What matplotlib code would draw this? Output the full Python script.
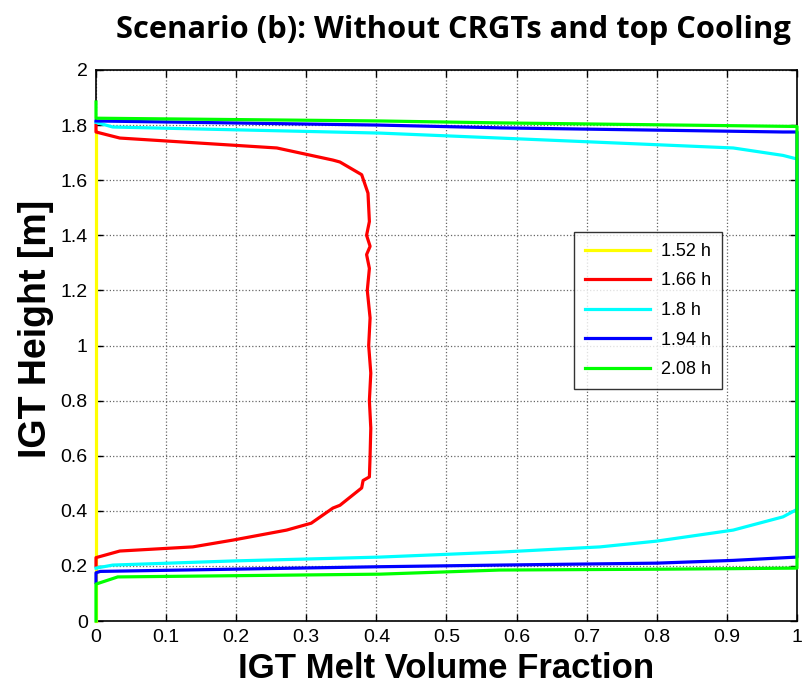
import numpy as np
import matplotlib
matplotlib.use("Agg")
import matplotlib.pyplot as plt
from matplotlib.ticker import FuncFormatter

# --- data (melt fraction, height) ---
labels = ["1.52 h", "1.66 h", "1.8 h", "1.94 h", "2.08 h"]
colors = ["#ffff00", "#ff0000", "#00ffff", "#0000ff", "#00ff00"]

x_152 = [0, 0]
y_152 = [0, 1.78]

x_166 = [0, 0, 0.034, 0.258, 0.338, 0.348, 0.379, 0.388, 0.390, 0.386, 0.391,
         0.386, 0.390, 0.387, 0.391, 0.389, 0.392, 0.390, 0.392, 0.391, 0.390,
         0.381, 0.379, 0.348, 0.338, 0.307, 0.272, 0.196, 0.138, 0.034, 0, 0]
y_166 = [1.80, 1.775, 1.753, 1.717, 1.673, 1.666, 1.62, 1.553, 1.45, 1.40, 1.36,
         1.33, 1.28, 1.20, 1.10, 1.00, 0.90, 0.80, 0.70, 0.60, 0.523,
         0.51, 0.483, 0.42, 0.41, 0.355, 0.33, 0.294, 0.269, 0.254, 0.23, 0.20]

x_180 = [0, 0.024, 0.405, 0.576, 0.909, 0.98, 1.0, 1.0, 0.98, 0.909, 0.80,
         0.719, 0.576, 0.405, 0.196, 0.024, 0]
y_180 = [1.81, 1.793, 1.771, 1.753, 1.717, 1.69, 1.677, 0.405, 0.378, 0.33, 0.29,
         0.269, 0.25, 0.232, 0.218, 0.203, 0.192]

x_194 = [0, 0.405, 0.576, 0.98, 1.0, 1.0, 0.909, 0.80, 0.576, 0.405, 0.006, 0, 0]
y_194 = [1.815, 1.80, 1.79, 1.775, 1.775, 0.232, 0.22, 0.21, 0.203, 0.197, 0.18, 0.175, 0.14]

x_208 = [0, 0, 0.405, 0.576, 1.0, 1.0, 0.909, 0.80, 0.576, 0.405, 0.031, 0, 0]
y_208 = [1.884, 1.825, 1.815, 1.808, 1.795, 0.192, 0.19, 0.188, 0.185, 0.17, 0.16, 0.134, 0]

series_x = [x_152, x_166, x_180, x_194, x_208]
series_y = [y_152, y_166, y_180, y_194, y_208]

x_ticks = np.arange(0, 1.01, 0.1)
y_ticks = np.arange(0, 2.01, 0.2)

# --- figure ---
plt.rcParams["font.family"] = ["Liberation Sans", "DejaVu Sans"]
fig = plt.figure(figsize=(8.04, 6.9), dpi=100)
ax = fig.add_axes([96 / 804, 69 / 690, 701 / 804, 551 / 690])

for xs, ys, c, lab in zip(series_x, series_y, colors, labels):
    ax.plot(xs, ys, color=c, linewidth=2.3, label=lab,
            solid_joinstyle="round", clip_on=False, zorder=3)

ax.set_xlim(0, 1)
ax.set_ylim(0, 2)
ax.set_xticks(x_ticks)
ax.set_yticks(y_ticks)
ax.xaxis.set_major_formatter(FuncFormatter(lambda v, p: f"{v:g}"))
ax.yaxis.set_major_formatter(FuncFormatter(lambda v, p: f"{v:g}"))
ax.tick_params(direction="in", length=5, width=1, labelsize=14,
               top=True, right=True, pad=6)
ax.grid(True, linestyle=":", color="#666666", linewidth=0.9)
for s in ax.spines.values():
    s.set_linewidth(1.2)

ax.set_xlabel("IGT Melt Volume Fraction", fontsize=25, fontweight="bold", labelpad=4)
ax.set_ylabel("IGT Height [m]", fontsize=27, fontweight="bold")
ax.yaxis.set_label_coords(-0.06, 0.53)
fig.text(0.564, 0.956, "Scenario (b): Without CRGTs and top Cooling",
         ha="center", va="center", fontsize=22.2, fontweight="bold",
         family=["Open Sans", "DejaVu Sans"])

leg = ax.legend(loc="upper left", bbox_to_anchor=(0.682, 0.706), fontsize=13,
                frameon=True, fancybox=False, edgecolor="black",
                handlelength=3.6, borderpad=0.6, labelspacing=0.7,
                handletextpad=0.6, borderaxespad=0)
leg.get_frame().set_linewidth(1.0)

fig.savefig("out.png", dpi=100)
